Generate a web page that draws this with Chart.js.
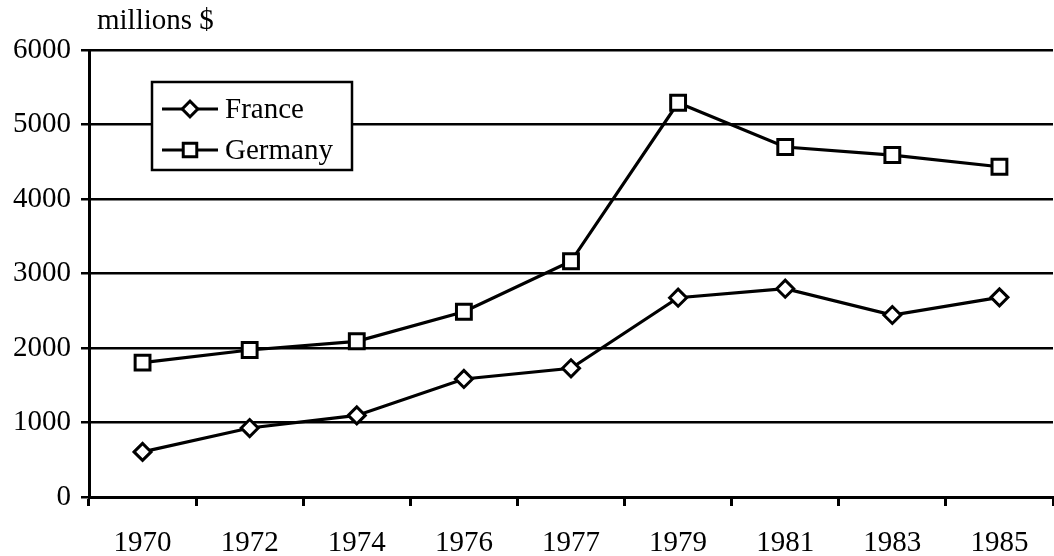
<!DOCTYPE html>
<html><head><meta charset="utf-8">
<script src="https://cdn.jsdelivr.net/npm/chart.js@4/dist/chart.umd.min.js"></script>
<style>html,body{margin:0;padding:0;background:#fff}#wrap{width:1054px;height:556px}</style>
</head><body><div id="wrap"><canvas id="c" width="1054" height="556"></canvas></div>
<script>
const years = ['1970','1972','1974','1976','1977','1979','1981','1983','1985'];
const france = [605, 926, 1095, 1584, 1728, 2675, 2796, 2443, 2680];
const germany = [1803, 1973, 2090, 2487, 3164, 5292, 4698, 4590, 4433];
const yTicks = [0, 1000, 2000, 3000, 4000, 5000, 6000];
const unitLabel = 'millions $';
const FONT = '"Liberation Serif", "DejaVu Serif", serif';

const overlay = {
  id: 'overlay',
  afterDraw(chart) {
    const ctx = chart.ctx, ca = chart.chartArea;
    ctx.save();
    ctx.fillStyle = '#000';
    ctx.font = '29px ' + FONT;
    ctx.textBaseline = 'alphabetic';
    ctx.textAlign = 'left';
    ctx.fillText(unitLabel, ca.left + 8, 29);
    // legend
    const bx = ca.left + 63, by = 82, bw = 200, bh = 88;
    ctx.fillStyle = '#fff';
    ctx.fillRect(bx, by, bw, bh);
    ctx.strokeStyle = '#000';
    ctx.lineWidth = 2.5;
    ctx.strokeRect(bx, by, bw, bh);
    const rows = [27, 68];
    chart.data.datasets.forEach((ds, i) => {
      const y = by + rows[i];
      ctx.beginPath();
      ctx.lineWidth = 3;
      ctx.moveTo(bx + 10, y); ctx.lineTo(bx + 66, y);
      ctx.stroke();
      Chart.helpers.drawPoint(ctx, {pointStyle: ds.pointStyle, rotation: 0, radius: ds.pointRadius * 0.9, borderWidth: 2.8}, bx + 38, y);
      ctx.fillStyle = '#fff';
      ctx.fill();
      ctx.lineWidth = 2.8;
      ctx.stroke();
      ctx.fillStyle = '#000';
      ctx.font = '29px ' + FONT;
      ctx.textBaseline = 'middle';
      ctx.fillText(ds.label, bx + 73, y + 1);
    });
    ctx.restore();
  }
};

new Chart(document.getElementById('c'), {
  type: 'line',
  data: {
    labels: years,
    datasets: [
      {label: 'France', data: france, borderColor: '#000', borderWidth: 3.2, pointStyle: 'rectRot', pointRadius: 8.5, pointBorderWidth: 3, pointBackgroundColor: '#fff', pointBorderColor: '#000', tension: 0},
      {label: 'Germany', data: germany, borderColor: '#000', borderWidth: 3.2, pointStyle: 'rect', pointRadius: 10.5, pointBorderWidth: 3, pointBackgroundColor: '#fff', pointBorderColor: '#000', tension: 0}
    ]
  },
  options: {
    responsive: false,
    animation: false,
    layout: {autoPadding: false, padding: {top: 50, right: 1, left: 0, bottom: 0}},
    plugins: {legend: {display: false}, tooltip: {enabled: false}, title: {display: false}},
    scales: {
      x: {
        offset: true,
        grid: {offset: true, drawOnChartArea: false, drawTicks: true, tickLength: 9, color: '#000', lineWidth: 3},
        border: {display: true, color: '#000', width: 3},
        ticks: {color: '#000', font: {family: FONT, size: 29}, padding: 20, maxRotation: 0, autoSkip: false},
        afterFit(s) { s.height = 59; s.paddingLeft = 0; s.paddingRight = 0; }
      },
      y: {
        min: 0, max: 6000,
        afterBuildTicks(s) { s.ticks = yTicks.map(v => ({value: v})); },
        grid: {color: '#000', lineWidth: 2.5, drawTicks: true, tickLength: 8},
        border: {display: true, color: '#000', width: 3},
        ticks: {color: '#000', font: {family: FONT, size: 29}, padding: 10, callback: v => String(v)},
        afterFit(s) { s.width = 89; s.paddingTop = 0; s.paddingBottom = 0; }
      }
    }
  },
  plugins: [overlay]
});
</script>
</body></html>
